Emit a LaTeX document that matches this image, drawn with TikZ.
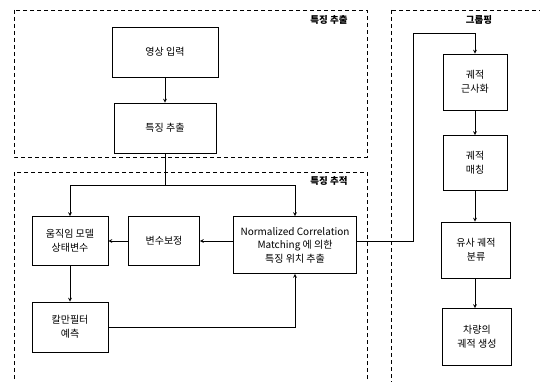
\documentclass[tikz,border=0pt]{standalone}
\usepackage{fontspec}
\setmainfont{Noto Sans CJK KR}

\begin{document}
\begin{tikzpicture}[x=1pt,y=-1pt,>=stealth]
    % styles
    \tikzset{
      stage/.style     = {draw=black, line width=0.9pt, dash pattern=on 4pt off 3pt},
      stagelabel/.style = {font=\bfseries\fontsize{9.5}{10}\selectfont},
      block/.style     = {draw=black, line width=0.9pt, align=center, inner sep=1pt,
                          font=\fontsize{10}{13.5}\selectfont},
      flowline/.style  = {draw=black, line width=0.7pt},
      flowarrow/.style = {->, line width=0.7pt, draw=black}
    }
    \useasboundingbox (0,0) rectangle (540,382);

    % Dashed stage frames:
    \draw[stage] (14,10) rectangle (367,157);
    \draw[stage] (14,172) rectangle (367,386);
    \draw[stage] (391,10) rectangle (546,386);
    \node[stagelabel] (lblExtract) at (329,20) {특징 추출};
    \node[stagelabel] (lblTrack)   at (329,181) {특징 추적};
    \node[stagelabel] (lblGroup)   at (479,20) {그룹핑};

    % Feature extraction:
    \node[block, minimum width=106pt, minimum height=50pt] (input) at (165,52) {영상 입력};
    \node[block, minimum width=102pt, minimum height=50pt] (feat)  at (165,128) {특징 추출};

    % Feature tracking:
    \node[block, minimum width=76pt, minimum height=49pt]  (motion) at (70,241) {움직임 모델\\상태변수};
    \node[block, minimum width=71pt, minimum height=49pt]  (correct) at (164,241) {변수보정};
    \node[block, minimum width=123pt, minimum height=57pt] (ncm)    at (295,245) {Normalized Correlation\\Matching 에 의한\\특징 위치 추출};
    \node[block, minimum width=76pt, minimum height=50pt]  (kalman) at (70,327) {칼만필터\\예측};

    % Grouping:
    \node[block, minimum width=64pt, minimum height=56pt] (approx)  at (475,82) {궤적\\근사화};
    \node[block, minimum width=64pt, minimum height=55pt] (match)   at (475,163) {궤적\\매칭};
    \node[block, minimum width=69pt, minimum height=56pt] (classify) at (476,250) {유사 궤적\\분류};
    \node[block, minimum width=69pt, minimum height=57pt] (traj)    at (477,337) {차량의\\궤적 생성};

    % Connectors:
    \coordinate (split) at (165,185);
    \coordinate (riser) at (413,33);
    \draw[flowarrow] (input) -- (feat);
    \draw[flowline]  (feat.south) -- (split);
    \draw[flowarrow] (split) -| (motion.north);
    \draw[flowarrow] (split) -| (ncm.north);
    \draw[flowarrow] (ncm.west |- correct) -- (correct);
    \draw[flowarrow] (correct) -- (motion);
    \draw[flowarrow] (motion) -- (kalman);
    \draw[flowarrow] (kalman.east) -| (ncm.south);
    \draw[flowarrow] (ncm.east |- correct) -| (riser) -| (approx.north);
    \draw[flowarrow] (approx) -- (match);
    \draw[flowarrow] (match.south) -- (classify.north -| match.south);
    \draw[flowarrow] (classify.south -| match.south) -- (traj.north -| match.south);
\end{tikzpicture}
\end{document}
